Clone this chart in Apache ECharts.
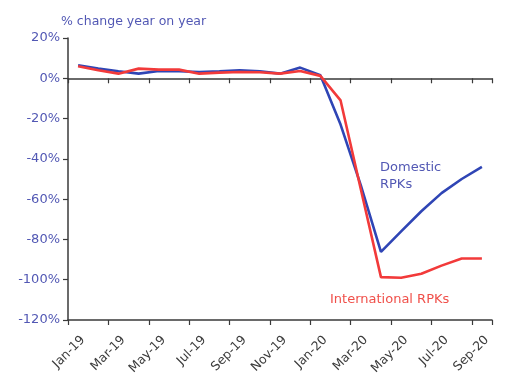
<!DOCTYPE html>
<html>
<head>
<meta charset="utf-8">
<script src="https://cdn.jsdelivr.net/npm/echarts@6/dist/echarts.min.js"></script>
<style>
  html, body { margin: 0; padding: 0; background: #ffffff; }
  #chart { width: 515px; height: 374px; }
</style>
</head>
<body>
<div id="chart"></div>
<script>
// Monthly passenger traffic, % change year on year
const months = ['Jan-19','Feb-19','Mar-19','Apr-19','May-19','Jun-19','Jul-19','Aug-19','Sep-19','Oct-19','Nov-19','Dec-19',
                'Jan-20','Feb-20','Mar-20','Apr-20','May-20','Jun-20','Jul-20','Aug-20','Sep-20'];
const domesticRPKs = [6.5, 4.8, 3.5, 2.3, 3.6, 3.5, 3.1, 3.5, 4.0, 3.5, 2.3, 5.3,
                      1.5, -23, -53, -86.2, -76, -66, -57, -50, -44];
const internationalRPKs = [6.0, 4.0, 2.3, 4.8, 4.3, 4.3, 2.3, 2.8, 3.1, 3.0, 2.3, 3.6,
                           1.2, -11, -55, -98.7, -99, -97, -93, -89.5, -89.5];
const yTicks = { min: -120, max: 20, step: 20 };

const blueText = '#5258b4';
const axisDark = '#3a3a3a';
const font = '"DejaVu Sans"';

const chart = echarts.init(document.getElementById('chart'), null, { renderer: 'canvas' });

const xBase = {
  type: 'category',
  data: months,
  boundaryGap: true,
  axisTick: { show: true, interval: 1, length: 5, lineStyle: { color: axisDark, width: 1.2 } },
  splitLine: { show: false }
};

chart.setOption({
  animation: false,
  backgroundColor: '#ffffff',
  textStyle: { fontFamily: font },
  title: {
    text: '% change year on year',
    left: 56, top: 10,
    textStyle: { color: blueText, fontSize: 12.5, fontWeight: 'normal', fontFamily: font }
  },
  grid: { left: 68, right: 23, top: 38, bottom: 54, containLabel: false, outerBoundsMode: 'none' },
  xAxis: [
    // bottom axis carrying the month labels
    Object.assign({}, xBase, {
      position: 'bottom',
      axisLine: { onZero: false, lineStyle: { color: axisDark, width: 1.5 } },
      axisLabel: {
        interval: 1, rotate: 45, margin: 23, padding: [0, -7, 0, 0],
        color: '#3c3c3c', fontSize: 12.5, fontFamily: font
      }
    }),
    // zero line with its own tick marks
    Object.assign({}, xBase, {
      position: 'bottom',
      axisLine: { onZero: true, onZeroAxisIndex: 0, lineStyle: { color: axisDark, width: 1.5 } },
      axisLabel: { show: false }
    })
  ],
  yAxis: {
    type: 'value',
    min: yTicks.min, max: yTicks.max, interval: yTicks.step,
    axisLine: { show: true, lineStyle: { color: axisDark, width: 1.5 } },
    axisTick: { show: true, length: 5, lineStyle: { color: axisDark, width: 1.2 } },
    splitLine: { show: false },
    axisLabel: { formatter: '{value}%', color: blueText, fontSize: 13, margin: 8, fontFamily: font }
  },
  series: [
    {
      name: 'Domestic RPKs', type: 'line', xAxisIndex: 0, data: domesticRPKs,
      symbol: 'none', lineStyle: { color: '#2f45b5', width: 2.6 }, z: 3
    },
    {
      name: 'International RPKs', type: 'line', xAxisIndex: 0, data: internationalRPKs,
      symbol: 'none', lineStyle: { color: '#f23a3a', width: 2.6 }, z: 4
    }
  ],
  graphic: [
    {
      type: 'text', left: 380, top: 159,
      style: { text: 'Domestic\nRPKs', fill: blueText, font: '13px ' + font, lineHeight: 17 }
    },
    {
      type: 'text', left: 330, top: 293,
      style: { text: 'International RPKs', fill: '#f0504a', font: '13px ' + font }
    }
  ]
});
</script>
</body>
</html>
